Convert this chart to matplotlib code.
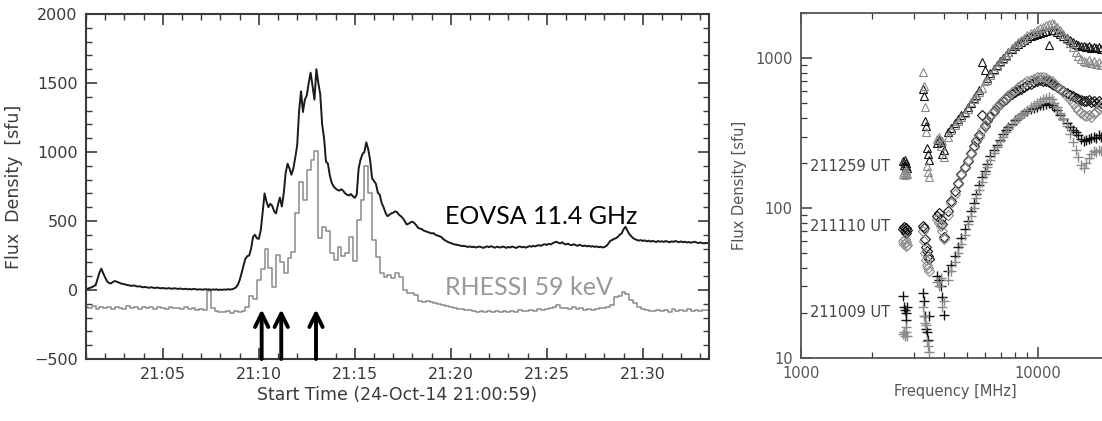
import numpy as np
import matplotlib
matplotlib.use('Agg')
from matplotlib import pyplot as plt
from matplotlib.ticker import MultipleLocator, FixedLocator, NullFormatter

# EOVSA 11.4 GHz light curve, sampled every 0.1 min from 21:01:00 (sfu)
eovsa = [
    5, 10, 15, 20, 28, 35, 80, 125, 155, 120,
    90, 62, 50, 48, 58, 65, 60, 55, 48, 45,
    42, 38, 35, 32, 30, 33, 28, 25, 27, 22,
    20, 22, 18, 16, 20, 17, 14, 18, 15, 12,
    15, 12, 10, 14, 11, 9, 13, 10, 8, 11,
    8, 6, 9, 5, 7, 4, 8, 6, 3, 5,
    4, 2, 6, 3, 5, 1, 4, 2, 5, 0,
    3, 1, 4, 2, 6, 3, 5, 10, 18, 35,
    70, 120, 175, 225, 245, 250, 300, 385, 400, 375,
    370, 430, 560, 700, 640, 600, 625, 610, 570, 555,
    620, 670, 605, 700, 850, 915, 880, 835, 880, 960,
    1050, 1300, 1440, 1290, 1380, 1410, 1500, 1575, 1480, 1380,
    1600, 1500, 1420, 1200, 1100, 930, 915, 830, 775, 750,
    735, 725, 720, 730, 718, 700, 690, 685, 695, 680,
    668, 690, 880, 945, 985, 1000, 1070, 1020, 940, 810,
    790, 770, 705, 690, 630, 600, 560, 535, 545, 555,
    560, 570, 565, 545, 535, 520, 500, 475, 480, 490,
    495, 485, 470, 450, 445, 440, 430, 425, 420, 415,
    410, 412, 400, 395, 390, 385, 370, 360, 352, 345,
    340, 335, 330, 328, 325, 322, 318, 320, 315, 312,
    316, 310, 314, 308, 312, 315, 310, 305, 312, 316,
    310, 318, 312, 306, 314, 310, 308, 315, 311, 305,
    312, 308, 315, 310, 304, 312, 316, 309, 313, 307,
    312, 318, 314, 320, 316, 322, 325, 320, 328, 332,
    326, 335, 330, 338, 345, 350, 342, 338, 346, 335,
    330, 336, 328, 325, 332, 326, 320, 328, 322, 318,
    322, 316, 320, 314, 318, 312, 316, 310, 314, 308,
    312, 318, 335, 355, 362, 370, 375, 385, 400, 410,
    440, 458, 430, 405, 390, 375, 368, 362, 358, 362,
    355, 360, 352, 358, 350, 356, 352, 348, 355, 350,
    353, 348, 355, 350, 346, 352, 349, 355, 350, 347,
    352, 346, 350, 344, 348, 342, 346, 350, 344, 340,
    345, 340, 338, 342, 339,
]

# RHESSI 59 keV counts (scaled and offset), 0.2 min bins from 21:01:00
rhessi = [
    -120, -128, -118, -135, -125,
    -130, -122, -138, -120, -128,
    -135, -115, -130, -125, -140,
    -120, -132, -126, -138, -124,
    -130, -136, -122, -134, -128,
    -138, -126, -140, -132, -144,
    -136, -142, -8, -132, -150,
    -158, -162, -150, -165, -155,
    -160, -155, -120, -40, -65,
    70, 150, 300, 160, 20,
    254, 200, 125, 230, 275,
    560, 780, 650, 870, 940,
    1010, 380, 460, 430, 270,
    215, 310, 245, 270, 385,
    210, 505, 650, 900, 700,
    365, 240, 120, 95, 110,
    85, 120, 95, 0, -25,
    -20, -38, -80, -88, -82,
    -90, -95, -100, -108, -118,
    -122, -130, -135, -140, -148,
    -145, -152, -158, -150, -160,
    -155, -162, -150, -158, -152,
    -160, -150, -156, -148, -155,
    -150, -145, -152, -140, -146,
    -138, -132, -125, -110, -130,
    -128, -135, -125, -140, -132,
    -145, -138, -142, -135, -132,
    -128, -120, -110, -50, -40,
    -15, -30, -75, -95, -120,
    -140, -145, -150, -155, -148,
    -152, -145, -158, -140, -150,
    -145, -155, -140, -150, -146,
    -150, -145, -142,
]

# times of the three spectra (min after 21:00)
spec_times = [10.15, 11.17, 12.98]
spec_labels = ['211009 UT', '211110 UT', '211259 UT']
spec_label_flux = [20, 75, 190]

# spectrum frequencies (GHz)
freq_ghz = [
    2.70, 2.72, 2.74, 2.76, 2.78, 2.80,
    3.28, 3.31, 3.34, 3.37, 3.40, 3.43, 3.46,
    3.76, 3.82, 3.88, 3.94, 4.00,
    4.15, 4.3, 4.45, 4.6, 4.75, 4.9, 5.05, 5.2, 5.35, 5.5,
    5.65, 5.8, 5.95, 6.1, 6.3, 6.5, 6.7, 6.9, 7.1, 7.3,
    7.5, 7.75, 8.0, 8.25, 8.5, 8.75, 9.0, 9.3, 9.6, 9.9,
    10.2, 10.5, 10.8, 11.1, 11.4, 11.7, 12.0, 12.4, 12.8, 13.2,
    13.6, 14.0, 14.4, 14.8, 15.2, 15.6, 16.0, 16.4, 16.8, 17.2,
    17.6, 18.0, 18.4,
]

# 21:10:09 spectrum (+)
s1009_k = [
    26, 22, 21, 20, 18, 22,
    27, 24, 19, 15.5, 15, 13.2, 19,
    35, 33, 30, 25.6, 19.5,
    38, 42, 48, 55, 63, 73, 82, 95, 108, 125,
    142, 160, 178, 198, 222, 245, 265, 285, 310, 330,
    345, 365, 385, 400, 415, 430, 445, 455, 465, 475,
    485, 490, 495, 500, 490, 470, 450, 420, 395, 370,
    345, 330, 320, 305, 290, 280, 285, 290, 295, 300,
    295, 305, 300,
]
s1009_g = [
    14.5, 15, 14, 16, 15, 14,
    22, 19, 17, 16.5, 13, 12, 11,
    32, 30, 34, 22, 24,
    33, 38, 44, 50, 58, 66, 78, 88, 100, 116,
    132, 150, 168, 188, 210, 232, 255, 278, 300, 320,
    340, 360, 380, 398, 415, 432, 450, 470, 488, 505,
    520, 535, 545, 550, 535, 505, 470, 430, 390, 350,
    310, 275, 245, 220, 195, 185, 200, 215, 230, 240,
    235, 245, 240,
]

# 21:11:10 spectrum (diamonds)
s1110_k = [
    72, 75, 70, 74, 68, 71,
    76, 74, 62, 55, 52, 48, 46,
    88, 92, 85, 78, 64,
    95, 112, 130, 148, 168, 188, 205, 232, 258, 280,
    305, 420, 355, 385, 410, 445, 470, 495, 515, 535,
    555, 575, 590, 610, 625, 645, 660, 675, 690, 700,
    710, 705, 700, 690, 675, 660, 640, 620, 600, 585,
    570, 555, 545, 535, 525, 520, 515, 525, 510, 520,
    505, 515, 500,
]
s1110_g = [
    60, 58, 62, 56, 59, 57,
    70, 60, 50, 45, 42, 40, 38,
    84, 80, 76, 70, 62,
    90, 108, 125, 145, 165, 185, 210, 228, 255, 285,
    300, 330, 360, 380, 415, 440, 475, 500, 525, 545,
    570, 590, 615, 640, 660, 680, 700, 715, 730, 745,
    750, 745, 735, 720, 700, 675, 650, 620, 590, 560,
    530, 500, 470, 450, 430, 420, 410, 420, 405, 430,
    440, 460, 480,
]

# 21:12:59 spectrum (triangles)
s1259_k = [
    205, 195, 210, 190, 200, 185,
    620, 560, 380, 350, 250, 230, 210,
    270, 285, 275, 230, 245,
    320, 340, 370, 390, 420, 440, 475, 500, 540, 570,
    610, 940, 830, 740, 790, 850, 900, 960, 1000, 1050,
    1100, 1150, 1200, 1250, 1290, 1330, 1360, 1400, 1430, 1450,
    1470, 1490, 1510, 1220, 1550, 1540, 1500, 1450, 1400, 1370,
    1320, 1280, 1250, 1230, 1210, 1200, 1180, 1200, 1170, 1190,
    1160, 1180, 1150,
]
s1259_g = [
    170, 175, 165, 180, 172, 168,
    810, 650, 470, 320, 190, 175, 160,
    290, 300, 260, 280, 220,
    300, 330, 360, 380, 405, 430, 460, 510, 530, 560,
    590, 630, 700, 720, 770, 830, 880, 940, 990, 1040,
    1100, 1160, 1220, 1280, 1320, 1370, 1420, 1460, 1500, 1540,
    1580, 1620, 1660, 1700, 1720, 1680, 1620, 1540, 1440, 1350,
    1260, 1180, 1100, 1040, 980, 960, 940, 970, 930, 950,
    910, 940, 900,
]

TEXT = '#3a3a3a'
GREY = '#8a8a8a'

plt.rcParams.update({
    'font.family': 'DejaVu Sans',
    'xtick.direction': 'in',
    'ytick.direction': 'in',
    'xtick.top': True,
    'ytick.right': True,
    'xtick.color': TEXT,
    'ytick.color': TEXT,
    'axes.edgecolor': TEXT,
})

fig = plt.figure(figsize=(11.02, 4.21), dpi=100)

# ---- light curves ----
ax = fig.add_axes([86 / 1102, 1 - 359 / 421, 623 / 1102, 345 / 421])
t_eovsa = 1.0 + 0.1 * np.arange(len(eovsa))
t_rhessi = 1.0 + 0.2 * np.arange(len(rhessi))
ax.plot(t_rhessi, rhessi, color=GREY, lw=1.1, drawstyle='steps-mid')
ax.plot(t_eovsa, eovsa, color='#1a1a1a', lw=1.4)

for t in spec_times:
    ax.annotate('', xy=(t, -140), xytext=(t, -500),
                arrowprops=dict(arrowstyle='->', lw=2.8, color='black',
                                mutation_scale=24, shrinkA=0, shrinkB=0))

ax.text(19.7, 530, 'EOVSA 11.4 GHz', family='Lato', fontsize=18,
        color='black', va='center', ha='left')
ax.text(19.7, 20, 'RHESSI 59 keV', family='Lato', fontsize=18,
        color='#999999', va='center', ha='left')

ax.set_xlim(1.0, 33.45)
ax.set_ylim(-500, 2000)
ax.xaxis.set_major_locator(FixedLocator([5, 10, 15, 20, 25, 30]))
ax.xaxis.set_minor_locator(MultipleLocator(1))
ax.set_xticklabels(['21:05', '21:10', '21:15', '21:20', '21:25', '21:30'])
ax.yaxis.set_major_locator(MultipleLocator(500))
ax.yaxis.set_minor_locator(MultipleLocator(100))
ax.tick_params(which='major', length=8, width=1.2, labelsize=11.5,
               labelcolor=TEXT, pad=6)
ax.tick_params(which='minor', length=4, width=1)
ax.set_xlabel('Start Time (24-Oct-14 21:00:59)', fontsize=12.5, color=TEXT,
              labelpad=3)
ax.set_ylabel('Flux  Density  [sfu]', fontsize=12.5, color=TEXT,
              labelpad=8)
for sp in ax.spines.values():
    sp.set_linewidth(1.5)

# ---- spectra ----
bx = fig.add_axes([801 / 1102, 1 - 358 / 421, 308.4 / 1102, 345 / 421])
f_mhz = np.array(freq_ghz) * 1000
kw = dict(ms=6, mew=0.8, mfc='none', ls='none')
bx.plot(f_mhz, s1009_k, '+', color='#111111', ms=7.5, mew=1.0, ls='none')
bx.plot(f_mhz, s1009_g, '+', color=GREY, ms=7.5, mew=1.0, ls='none')
bx.plot(f_mhz, s1110_k, 'D', color='#111111', **dict(kw, ms=5))
bx.plot(f_mhz, s1110_g, 'D', color=GREY, **dict(kw, ms=5))
bx.plot(f_mhz, s1259_k, '^', color='#111111', **kw)
bx.plot(f_mhz, s1259_g, '^', color=GREY, **kw)

for lab, s in zip(spec_labels, spec_label_flux):
    bx.text(1090, s, lab, fontsize=10.5, color='#444444', va='center',
            ha='left')

bx.set_xscale('log')
bx.set_yscale('log')
bx.set_xlim(1000, 20000)
bx.set_ylim(10, 2000)
bx.set_xticks([1000, 10000])
bx.set_xticklabels(['1000', '10000'])
bx.set_yticks([10, 100, 1000])
bx.set_yticklabels(['10', '100', '1000'])
bx.yaxis.set_minor_formatter(NullFormatter())
bx.xaxis.set_minor_formatter(NullFormatter())
bx.tick_params(which='major', length=8, width=1.1, labelsize=10.5,
               labelcolor='#555555', pad=6)
bx.tick_params(which='minor', length=4, width=0.9)
bx.tick_params(which='both', right=False)
bx.set_xlabel('Frequency [MHz]', fontsize=10.5, color='#555555', labelpad=2)
bx.set_ylabel('Flux Density [sfu]', fontsize=10.5, color='#555555',
              labelpad=6)
for sp in bx.spines.values():
    sp.set_linewidth(1.3)
    sp.set_color('#555555')

fig.savefig('out.png', dpi=100)
